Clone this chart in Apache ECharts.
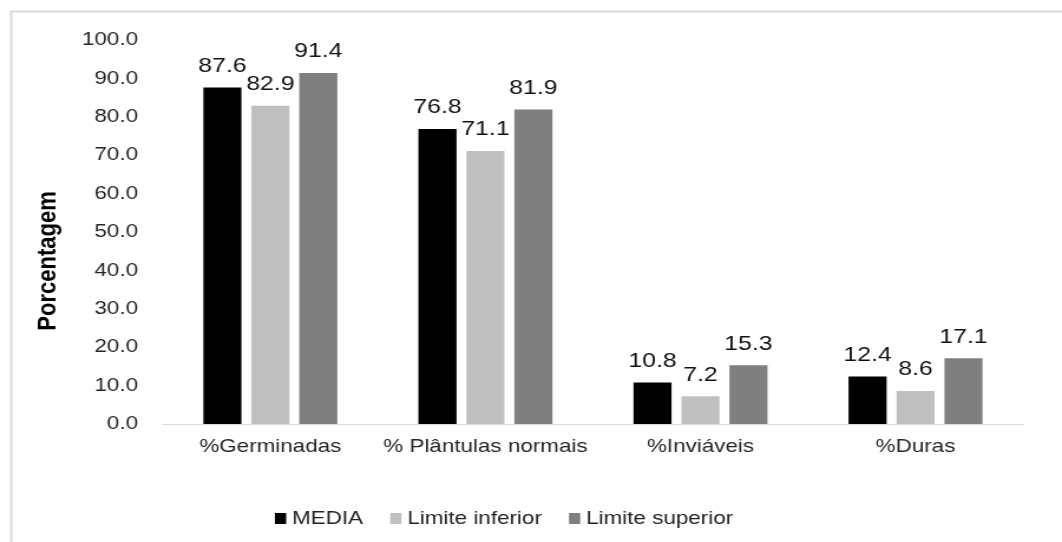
<!DOCTYPE html>
<html>
<head>
<meta charset="utf-8">
<script src="https://cdn.jsdelivr.net/npm/echarts@6/dist/echarts.min.js"></script>
<style>
  html, body { margin: 0; padding: 0; background: #ffffff; overflow: hidden; }
  /* the chart is laid out narrow and widened horizontally, giving the wide lettering */
  #chart { width: 900px; height: 542px; transform: scaleX(1.18); transform-origin: 0 0; }
</style>
</head>
<body>
<div id="chart"></div>
<script>
  const categories = ['%Germinadas', '% Plântulas normais', '%Inviáveis', '%Duras'];
  const seriesNames = ['MEDIA', 'Limite inferior', 'Limite superior'];
  const media = [87.6, 76.8, 10.8, 12.4];
  const limiteInferior = [82.9, 71.1, 7.2, 8.6];
  const limiteSuperior = [91.4, 81.9, 15.3, 17.1];
  const yAxisName = 'Porcentagem';

  const FONT = "'Liberation Sans', Arial, sans-serif";
  const colors = ['#000000', '#bfbfbf', '#7f7f7f'];
  const values = [media, limiteInferior, limiteSuperior];

  const chart = echarts.init(document.getElementById('chart'), null, { renderer: 'canvas' });

  chart.setOption({
    animation: false,
    backgroundColor: '#ffffff',
    textStyle: { fontFamily: FONT },
    graphic: [{
      type: 'rect',
      left: 7, top: 9,
      shape: { width: 1000, height: 700 },
      style: { fill: 'none', stroke: '#d9d9d9', lineWidth: 2 },
      silent: true, z: -1
    }],
    grid: { left: 138, right: 33, top: 40, bottom: 118, containLabel: false },
    legend: {
      data: seriesNames,
      left: 228, top: 504,
      itemWidth: 9.5, itemHeight: 11, itemGap: 23,
      icon: 'rect',
      textStyle: { fontFamily: FONT, fontSize: 19, color: '#222222' }
    },
    xAxis: {
      type: 'category',
      data: categories,
      axisTick: { show: false },
      axisLine: { lineStyle: { color: '#d9d9d9', width: 1 } },
      axisLabel: { interval: 0, fontFamily: FONT, fontSize: 19, color: '#262626', margin: 13 }
    },
    yAxis: {
      type: 'value',
      min: 0, max: 100, interval: 10,
      name: yAxisName,
      nameLocation: 'middle',
      nameGap: 86,
      nameRotate: 90,
      nameTextStyle: {
        fontFamily: FONT, fontSize: 22, fontWeight: 'bold', color: '#000000',
        padding: [0, 58, 0, 0]
      },
      axisLine: { show: false },
      axisTick: { show: false },
      splitLine: { show: false },
      axisLabel: {
        fontFamily: FONT, fontSize: 19, color: '#262626', margin: 21,
        formatter: v => v.toFixed(1)
      }
    },
    series: seriesNames.map((name, i) => ({
      name: name,
      type: 'bar',
      data: values[i],
      barGap: '26%',
      barCategoryGap: '37.7%',
      itemStyle: { color: colors[i] },
      label: {
        show: true,
        position: 'top',
        distance: 11,
        fontFamily: FONT,
        fontSize: 21,
        color: '#111111',
        formatter: p => p.value.toFixed(1)
      }
    }))
  });
</script>
</body>
</html>
